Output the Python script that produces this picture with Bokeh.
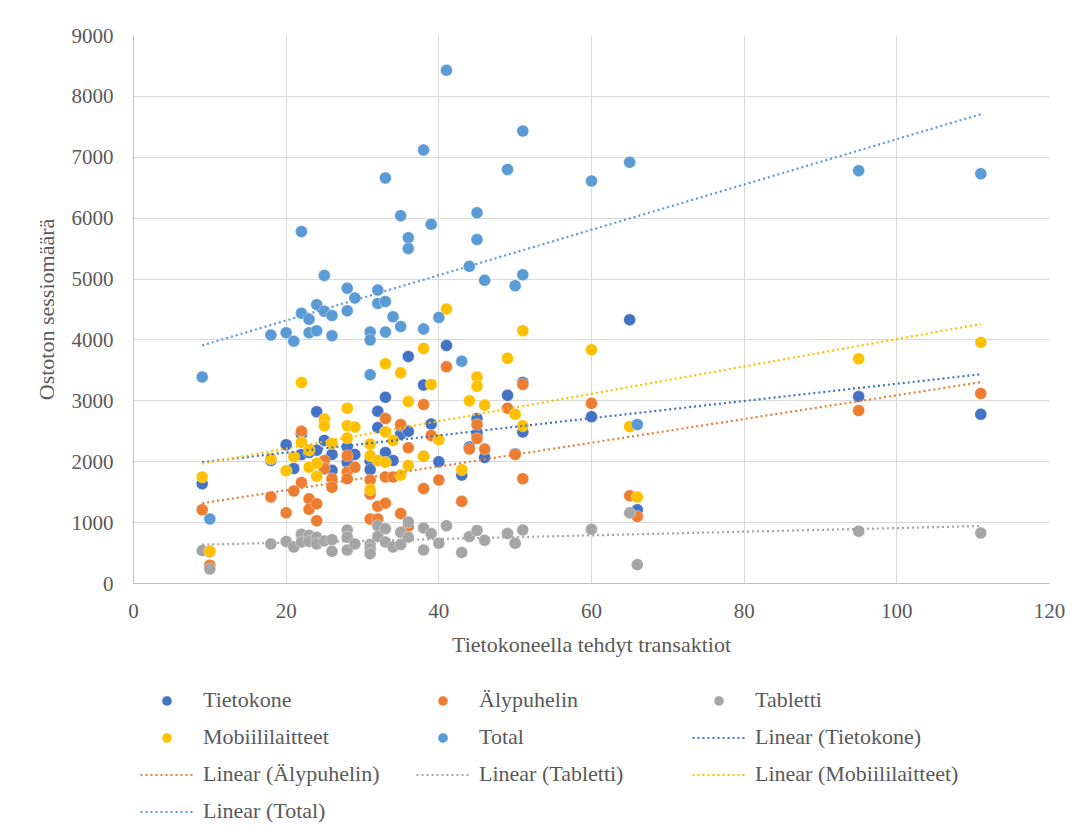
import numpy as np
from bokeh.plotting import figure
from bokeh.layouts import column
from bokeh.models import ColumnDataSource, Legend, LegendItem, FixedTicker, Range1d
from bokeh.embed import file_html
from bokeh.resources import INLINE

# ---- data ----
tietokone_x = [9, 10, 18, 20, 21, 22, 22, 23, 23, 24, 24, 25, 25, 26, 26, 28, 28, 29, 31, 31, 32, 32, 33, 33, 34, 35, 35, 36, 36, 38, 38, 39, 40, 41, 43, 44, 45, 45, 46, 49, 50, 51, 51, 60, 65, 66, 95, 111]
tietokone_y = [1640, 520, 2020, 2280, 1890, 2450, 2120, 2190, 2150, 2820, 2190, 2350, 1880, 2120, 1860, 2240, 1990, 2120, 2010, 1870, 2830, 2560, 3060, 2150, 2020, 2450, 2590, 3730, 2500, 3260, 2090, 2620, 2000, 3910, 1780, 2240, 2710, 2460, 2070, 3090, 2130, 3300, 2490, 2740, 4330, 1210, 3070, 2780]

alypuhelin_x = [9, 10, 18, 20, 21, 22, 22, 23, 23, 24, 24, 25, 25, 26, 26, 28, 28, 28, 29, 31, 31, 31, 32, 32, 33, 33, 33, 34, 35, 35, 36, 36, 38, 38, 39, 40, 41, 43, 44, 45, 45, 46, 49, 50, 51, 51, 60, 65, 66, 95, 111]
alypuhelin_y = [1210, 300, 1420, 1160, 1520, 2500, 1660, 1390, 1220, 1310, 1030, 2020, 1890, 1720, 1580, 2100, 1830, 1720, 1910, 1700, 1470, 1060, 1270, 1060, 2710, 1750, 1320, 1750, 2610, 1150, 2230, 940, 2940, 1560, 2430, 1700, 3560, 1350, 2210, 2610, 2380, 2210, 2880, 2120, 1720, 3270, 2960, 1440, 1100, 2840, 3120]

tabletti_x = [9, 10, 18, 20, 21, 22, 22, 23, 23, 24, 24, 25, 26, 26, 28, 28, 28, 29, 31, 31, 31, 32, 32, 33, 33, 34, 35, 35, 36, 36, 38, 38, 39, 40, 41, 43, 44, 45, 46, 49, 50, 51, 60, 65, 66, 95, 111]
tabletti_y = [540, 240, 650, 690, 600, 810, 680, 790, 690, 760, 650, 700, 720, 530, 880, 760, 550, 650, 640, 570, 490, 950, 770, 900, 680, 600, 840, 640, 1010, 760, 910, 550, 820, 660, 950, 510, 770, 870, 710, 820, 660, 880, 890, 1160, 310, 860, 830]

mobiili_x = [9, 10, 18, 20, 21, 22, 22, 23, 23, 24, 24, 25, 25, 26, 28, 28, 28, 29, 31, 31, 31, 32, 33, 33, 33, 34, 35, 35, 36, 36, 38, 38, 39, 40, 41, 43, 44, 45, 45, 46, 49, 50, 51, 51, 60, 65, 66, 95, 111]
mobiili_y = [1750, 530, 2050, 1850, 2080, 3300, 2320, 2190, 1910, 1975, 1760, 2700, 2590, 2300, 2880, 2590, 2390, 2570, 2290, 2100, 1540, 2020, 3610, 2490, 1990, 2350, 3460, 1780, 2990, 1940, 3860, 2090, 3270, 2360, 4510, 1870, 3000, 3390, 3240, 2930, 3700, 2780, 4150, 2590, 3840, 2580, 1420, 3690, 3960]

total_x = [9, 10, 18, 20, 21, 22, 22, 23, 23, 24, 24, 25, 25, 26, 26, 28, 28, 29, 31, 31, 31, 32, 32, 33, 33, 33, 34, 35, 35, 36, 36, 38, 38, 39, 40, 41, 43, 44, 45, 45, 46, 49, 50, 51, 51, 60, 65, 66, 95, 111]
total_y = [3390, 1060, 4080, 4120, 3980, 5780, 4440, 4340, 4120, 4580, 4150, 5060, 4470, 4400, 4070, 4850, 4480, 4690, 4130, 4000, 3430, 4820, 4600, 6660, 4630, 4130, 4380, 6040, 4220, 5680, 5500, 7120, 4180, 5900, 4370, 8430, 3650, 5210, 6090, 5650, 4980, 6800, 4890, 7430, 5070, 6610, 6920, 2610, 6780, 6730]

series_names = ["Tietokone", "Älypuhelin", "Tabletti", "Mobiililaitteet", "Total"]
series_colors = ["#4472C4", "#ED7D31", "#A5A5A5", "#FFC000", "#5B9BD5"]
x_ticks = [0, 20, 40, 60, 80, 100, 120]
y_ticks = [0, 1000, 2000, 3000, 4000, 5000, 6000, 7000, 8000, 9000]

x_title = "Tietokoneella tehdyt transaktiot"
y_title = "Ostoton sessiomäärä"

FONT = "Liberation Serif"
TXT = "#595959"
DASH = "2 3"

# ---- main chart ----
p = figure(width=1077, height=680, output_backend="svg", toolbar_location=None,
           x_range=Range1d(0, 120), y_range=Range1d(0, 9000),
           min_border_left=133, min_border_right=28, min_border_top=35, min_border_bottom=97)
p.outline_line_color = None
p.background_fill_color = "white"
p.border_fill_color = "white"

for ax in (p.xaxis[0], p.yaxis[0]):
    ax.axis_line_color = "#bfbfbf"
    ax.axis_line_width = 1
    ax.major_tick_line_color = None
    ax.minor_tick_line_color = None
    ax.major_label_text_font = FONT
    ax.major_label_text_font_size = "21px"
    ax.major_label_text_color = TXT
    ax.axis_label_text_font = FONT
    ax.axis_label_text_font_size = "22px"
    ax.axis_label_text_color = TXT
    ax.axis_label_text_font_style = "normal"

p.xaxis.ticker = FixedTicker(ticks=x_ticks)
p.yaxis.ticker = FixedTicker(ticks=y_ticks)
p.xaxis.axis_label = x_title
p.yaxis.axis_label = y_title
p.xaxis.major_label_standoff = 14
p.xaxis.axis_label_standoff = 11
p.yaxis.major_label_standoff = 14
p.yaxis.axis_label_standoff = 10

p.xgrid.grid_line_color = "#d9d9d9"
p.ygrid.grid_line_color = "#d9d9d9"
p.xgrid.grid_line_width = 1
p.ygrid.grid_line_width = 1

all_x = [tietokone_x, alypuhelin_x, tabletti_x, mobiili_x, total_x]
all_y = [tietokone_y, alypuhelin_y, tabletti_y, mobiili_y, total_y]

for name, color, xs, ys in zip(series_names, series_colors, all_x, all_y):
    src = ColumnDataSource(dict(x=xs, y=ys))
    p.scatter("x", "y", source=src, size=12, fill_color=color, line_color="white",
              line_width=0.6, line_alpha=0.6)

for name, color, xs, ys in zip(series_names, series_colors, all_x, all_y):
    slope, intercept = np.polyfit(np.array(xs, float), np.array(ys, float), 1)
    xe = np.array([min(xs), max(xs)], float)
    lsrc = ColumnDataSource(dict(x=xe, y=slope * xe + intercept))
    p.line("x", "y", source=lsrc, line_color=color, line_width=2.2, line_dash=DASH)

# ---- legend strip below the chart ----
lg = figure(width=1077, height=152, output_backend="svg", toolbar_location=None,
            x_range=Range1d(0, 1), y_range=Range1d(0, 1),
            min_border_left=124, min_border_right=0, min_border_top=0, min_border_bottom=0)
lg.axis.visible = False
lg.grid.visible = False
lg.outline_line_color = None
lg.border_fill_color = "white"

# proxy renderers (placed outside the visible range) that only supply legend glyphs
items = []
for name, color in zip(series_names, series_colors):
    r = lg.scatter(x=[-5], y=[-5], size=12, fill_color=color, line_color="white",
                   line_width=0.6, line_alpha=0.6)
    items.append(LegendItem(label=name, renderers=[r]))
for name, color in zip(series_names, series_colors):
    r = lg.line(x=[-6, -5], y=[-6, -5], line_color=color, line_width=2.2, line_dash=DASH)
    items.append(LegendItem(label="Linear (" + name + ")", renderers=[r]))

legend = Legend(items=items, location="top_left", orientation="horizontal", ncols=3,
                glyph_width=53, glyph_height=25, label_height=25, label_width=202,
                label_standoff=10, spacing=11, padding=6, margin=7,
                border_line_color=None, background_fill_alpha=0,
                label_text_font=FONT, label_text_font_size="22px", label_text_color=TXT)
lg.add_layout(legend, "center")

layout = column(p, lg, spacing=0)
open("out.html", "w").write(file_html(layout, INLINE))
